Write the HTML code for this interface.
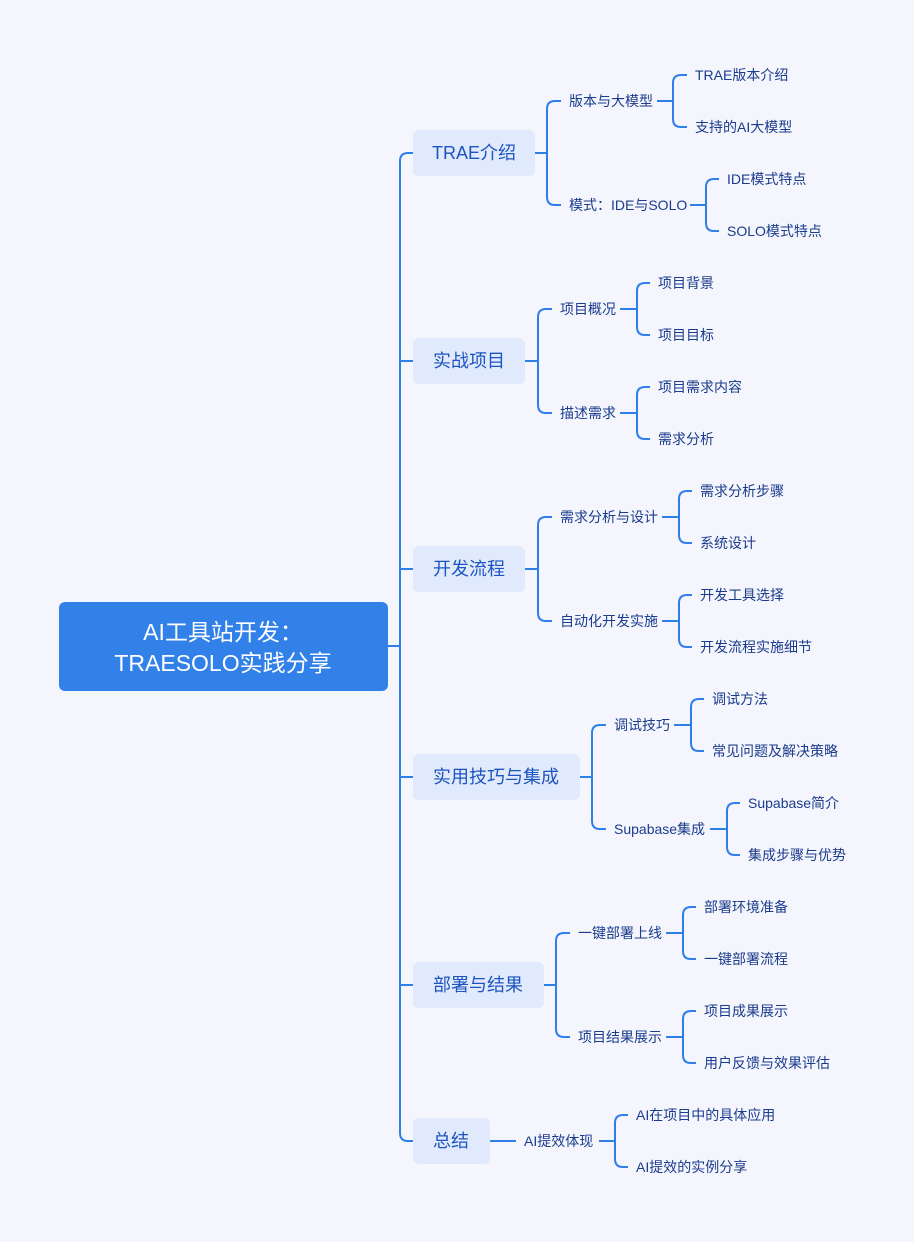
<!DOCTYPE html>
<html><head><meta charset="utf-8"><style>
html,body{margin:0;padding:0;background:#f4f5fd;}
svg{display:block;font-family:"Liberation Sans","Noto Sans CJK SC",sans-serif;}
.l{fill:none;stroke:#2f7fea;stroke-width:2;}
.t2{font-size:14px;fill:#1a3c8c;}
.t1{font-size:18px;fill:#1d55c0;}
</style></head><body>
<svg width="914" height="1242" viewBox="0 0 914 1242">
<rect width="914" height="1242" fill="#f4f5fd"/>
<!-- spine -->
<path class="l" d="M388 646 H400 M413 153 H408 Q400 153 400 161 V1133 Q400 1141 408 1141 H413 M400 361 H413 M400 569 H413 M400 777 H413 M400 985 H413"/>
<!-- root -->
<rect x="59" y="602" width="329" height="89" rx="6" fill="#3181e9"/>
<text x="223" y="632" font-size="23" fill="#fff" text-anchor="middle" dominant-baseline="central">AI工具站开发：</text>
<text x="223" y="663" font-size="23" fill="#fff" text-anchor="middle" dominant-baseline="central">TRAESOLO实践分享</text>
<!-- L1 boxes -->
<g fill="#e1e9fc">
<rect x="413" y="130" width="122" height="46" rx="6"/>
<rect x="413" y="338" width="112" height="46" rx="6"/>
<rect x="413" y="546" width="112" height="46" rx="6"/>
<rect x="413" y="754" width="167" height="46" rx="6"/>
<rect x="413" y="962" width="131" height="46" rx="6"/>
<rect x="413" y="1118" width="77" height="46" rx="6"/>
</g>
<g class="t1" text-anchor="middle" dominant-baseline="central">
<text x="474" y="153">TRAE介绍</text>
<text x="469" y="361">实战项目</text>
<text x="469" y="569">开发流程</text>
<text x="496" y="777">实用技巧与集成</text>
<text x="478" y="985">部署与结果</text>
<text x="451" y="1141">总结</text>
</g>
<!-- connectors -->
<path class="l" d="
M535 153 H547 M561 101 H555 Q547 101 547 109 V197 Q547 205 555 205 H561
M657 101 H673 M687 75 H681 Q673 75 673 83 V119 Q673 127 681 127 H687
M690 205 H706 M719 179 H714 Q706 179 706 187 V223 Q706 231 714 231 H719
M525 361 H538 M552 309 H546 Q538 309 538 317 V405 Q538 413 546 413 H552
M620 309 H637 M650 283 H645 Q637 283 637 291 V327 Q637 335 645 335 H650
M620 413 H637 M650 387 H645 Q637 387 637 395 V431 Q637 439 645 439 H650
M525 569 H538 M552 517 H546 Q538 517 538 525 V613 Q538 621 546 621 H552
M662 517 H679 M692 491 H687 Q679 491 679 499 V535 Q679 543 687 543 H692
M662 621 H679 M692 595 H687 Q679 595 679 603 V639 Q679 647 687 647 H692
M580 777 H592 M606 725 H600 Q592 725 592 733 V821 Q592 829 600 829 H606
M674 725 H691 M704 699 H699 Q691 699 691 707 V743 Q691 751 699 751 H704
M710 829 H727 M740 803 H735 Q727 803 727 811 V847 Q727 855 735 855 H740
M544 985 H556 M570 933 H564 Q556 933 556 941 V1029 Q556 1037 564 1037 H570
M666 933 H683 M696 907 H691 Q683 907 683 915 V951 Q683 959 691 959 H696
M666 1037 H683 M696 1011 H691 Q683 1011 683 1019 V1055 Q683 1063 691 1063 H696
M490 1141 H516
M599 1141 H615 M628 1115 H623 Q615 1115 615 1123 V1159 Q615 1167 623 1167 H628
"/>
<g class="t2" dominant-baseline="central">
<text x="569" y="101">版本与大模型</text>
<text x="569" y="205">模式：IDE与SOLO</text>
<text x="695" y="75">TRAE版本介绍</text>
<text x="695" y="127">支持的AI大模型</text>
<text x="727" y="179">IDE模式特点</text>
<text x="727" y="231">SOLO模式特点</text>
<text x="560" y="309">项目概况</text>
<text x="560" y="413">描述需求</text>
<text x="658" y="283">项目背景</text>
<text x="658" y="335">项目目标</text>
<text x="658" y="387">项目需求内容</text>
<text x="658" y="439">需求分析</text>
<text x="560" y="517">需求分析与设计</text>
<text x="560" y="621">自动化开发实施</text>
<text x="700" y="491">需求分析步骤</text>
<text x="700" y="543">系统设计</text>
<text x="700" y="595">开发工具选择</text>
<text x="700" y="647">开发流程实施细节</text>
<text x="614" y="725">调试技巧</text>
<text x="614" y="829">Supabase集成</text>
<text x="712" y="699">调试方法</text>
<text x="712" y="751">常见问题及解决策略</text>
<text x="748" y="803">Supabase简介</text>
<text x="748" y="855">集成步骤与优势</text>
<text x="578" y="933">一键部署上线</text>
<text x="578" y="1037">项目结果展示</text>
<text x="704" y="907">部署环境准备</text>
<text x="704" y="959">一键部署流程</text>
<text x="704" y="1011">项目成果展示</text>
<text x="704" y="1063">用户反馈与效果评估</text>
<text x="524" y="1141">AI提效体现</text>
<text x="636" y="1115">AI在项目中的具体应用</text>
<text x="636" y="1167">AI提效的实例分享</text>
</g>
</svg>
</body></html>
